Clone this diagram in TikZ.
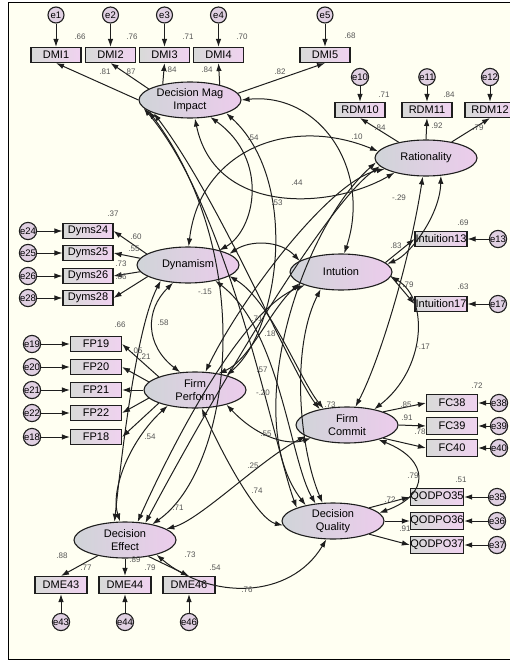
\documentclass[tikz,border=0pt]{standalone}
\usepackage{fontspec}
\setmainfont{Liberation Sans}
\usetikzlibrary{arrows.meta,shapes.geometric}
\definecolor{cream}{RGB}{255,255,242}
\definecolor{boxL}{RGB}{216,218,216}
\definecolor{boxR}{RGB}{240,210,240}
\definecolor{ellL}{RGB}{208,212,216}
\definecolor{ellR}{RGB}{236,204,236}
\definecolor{errF}{RGB}{224,208,226}
\definecolor{ink}{RGB}{30,30,30}
\definecolor{valc}{RGB}{85,85,85}
\begin{document}
\begin{tikzpicture}[x=1pt,y=-1pt,
  ind/.style={draw=ink, line width=1.1pt, minimum width=50pt, minimum height=15pt, inner sep=0pt, left color=boxL, right color=boxR, font=\fontsize{11}{11}\selectfont},
  lat/.style={ellipse, draw=ink, line width=1.1pt, minimum width=102pt, minimum height=36pt, inner sep=0pt, left color=ellL, right color=ellR, align=center, font=\fontsize{11}{12.5}\selectfont},
  err/.style={circle, draw=ink, line width=1.1pt, minimum size=16pt, inner sep=0pt, fill=errF, font=\fontsize{9.5}{9.5}\selectfont},
  arr/.style={draw=ink, line width=1pt, -{Latex[length=8pt,width=5.5pt]}},
  cov/.style={draw=ink, line width=1pt, {Latex[length=8pt,width=5.5pt]}-{Latex[length=8pt,width=5.5pt]}},
  val/.style={font=\fontsize{8}{8}\selectfont, text=valc, inner sep=0pt}
]
\useasboundingbox (0,0) rectangle (509,661);
\fill[white] (0,0) rectangle (509,661);
\draw[fill=cream, line width=1pt] (8,3) rectangle (540,659);

% latent variables
\node[lat] (DMI) at (190,100) {Decision Mag\\Impact};
\node[lat] (RAT) at (426,158) {Rationality};
\node[lat] (INT) at (341,272) {Intution};
\node[lat] (DYN) at (188,265) {Dynamism};
\node[lat] (FP)  at (195,390) {Firm\\Perform};
\node[lat] (FC)  at (347,425) {Firm\\Commit};
\node[lat] (DQ)  at (333,521) {Decision\\Quality};
\node[lat] (DE)  at (125,540) {Decision\\Effect};

% DMI indicators
\foreach \n/\x/\e in {DMI1/56/e1, DMI2/110.5/e2, DMI3/164.5/e3, DMI4/218.5/e4, DMI5/325/e5}{
  \node[ind] (\n) at (\x,55) {\n};
  \node[err] (\e) at (\x,15) {\e};
  \draw[arr] (\e) -- (\n);
}
\draw[arr] (DMI.west) -- (DMI1.south);
\draw[arr] (DMI.165) -- (DMI2.south);
\draw[arr] (DMI.150) -- (DMI3.south);
\draw[arr] (DMI.27) -- (DMI4.south);
\draw[arr] (DMI.8) -- (DMI5.south);

% RDM indicators
\foreach \n/\x/\e in {RDM10/360/e10, RDM11/427/e11, RDM12/490/e12}{
  \node[ind] (\n) at (\x,110) {\n};
  \node[err] (\e) at (\x,77) {\e};
  \draw[arr] (\e) -- (\n);
}
\draw[arr] (RAT.150) -- (RDM10.south);
\draw[arr] (RAT.north) -- (RDM11.south);
\draw[arr] (RAT.32) -- (RDM12.south);

% Intuition indicators
\foreach \n/\y/\e in {Intuition13/239/e13, Intuition17/304/e17}{
  \node[ind, minimum width=52pt] (\n) at (441,\y) {\n};
  \node[err] (\e) at (498,\y) {\e};
  \draw[arr] (\e) -- (\n);
}
\draw[arr] (INT.12) -- (Intuition13.west);
\draw[arr] (INT.-5) -- (Intuition17.west);

% Dynamism indicators
\foreach \n/\y/\e/\a in {Dyms24/231/e24/165, Dyms25/253/e25/172, Dyms26/276/e26/188, Dyms28/298/e28/196}{
  \node[ind] (\n) at (88,\y) {\n};
  \node[err] (\e) at (28,\y) {\e};
  \draw[arr] (\e) -- (\n);
  \draw[arr] (DYN.\a) -- (\n.east);
}

% Firm perform indicators
\foreach \n/\y/\e/\a in {FP19/344/e19/160, FP20/367/e20/170, FP21/390/e21/180, FP22/413/e22/190, FP18/437/e18/200}{
  \node[ind, minimum width=51pt] (\n) at (96,\y) {\n};
  \node[err] (\e) at (32,\y) {\e};
  \draw[arr] (\e) -- (\n);
  \draw[arr] (FP.\a) -- (\n.east);
}

% Firm commit indicators
\foreach \n/\y/\e/\a in {FC38/403/e38/20, FC39/426/e39/0, FC40/448/e40/-20}{
  \node[ind, minimum width=51pt, minimum height=17pt] (\n) at (452,\y) {\n};
  \node[err] (\e) at (499,\y) {\e};
  \draw[arr] (\e) -- (\n);
  \draw[arr] (FC.\a) -- (\n.west);
}

% Decision quality indicators
\foreach \n/\y/\e/\a in {QODPO35/497/e35/20, QODPO36/521/e36/0, QODPO37/545/e37/-20}{
  \node[ind, minimum width=51pt, minimum height=17pt] (\n) at (437,\y) {\n};
  \node[err] (\e) at (497,\y) {\e};
  \draw[arr] (\e) -- (\n);
  \draw[arr] (DQ.\a) -- (\n.west);
}

% Decision effect indicators
\foreach \n/\x/\e/\a in {DME43/61/e43/-150, DME44/125/e44/-90, DME46/189/e46/-35}{
  \node[ind, minimum width=52pt, minimum height=17pt] (\n) at (\x,585) {\n};
  \node[err] (\e) at (\x,622) {\e};
  \draw[arr] (\e) -- (\n);
  \draw[arr] (DE.\a) -- (\n.north);
}

% covariances
\draw[cov] (DMI.-75) .. controls (215,215) and (330,210) .. (RAT.205);
\draw[cov] (DMI.east) .. controls (320,92) and (372,170) .. (INT.80);
\draw[cov] (DMI.-40) .. controls (270,160) and (255,230) .. (DYN.25);
\draw[cov] (DMI.-20) .. controls (300,180) and (280,330) .. (FP.25);
\draw[cov] (DMI.200) .. controls (220,200) and (290,370) .. (FC.150);
\draw[cov] (DMI.190) .. controls (230,210) and (275,450) .. (DQ.160);
\draw[cov] (DMI.195) .. controls (260,260) and (230,470) .. (DE.30);
\draw[cov] (RAT.-50) .. controls (440,215) and (410,255) .. (INT.10);
\draw[cov] (RAT.172) .. controls (290,115) and (200,150) .. (DYN.88);
\draw[cov] (RAT.195) .. controls (330,180) and (240,300) .. (FP.60);
\draw[cov] (RAT.-100) .. controls (410,260) and (380,360) .. (FC.65);
\draw[cov] (RAT.185) .. controls (300,230) and (240,420) .. (DQ.150);
\draw[cov] (RAT.190) .. controls (320,210) and (200,420) .. (DE.40);
\draw[cov] (INT.165) .. controls (280,240) and (250,240) .. (DYN.15);
\draw[cov] (INT.195) .. controls (270,310) and (250,360) .. (FP.35);
\draw[cov] (INT.-5) .. controls (430,300) and (425,370) .. (FC.30);
\draw[cov] (INT.-140) .. controls (290,350) and (300,450) .. (DQ.120);
\draw[cov] (INT.200) .. controls (240,310) and (170,450) .. (DE.55);
\draw[cov] (DYN.230) .. controls (145,310) and (145,345) .. (FP.130);
\draw[cov] (DYN.-15) .. controls (270,300) and (300,380) .. (FC.145);
\draw[cov] (DYN.-30) .. controls (280,330) and (290,460) .. (DQ.135);
\draw[cov] (DYN.210) .. controls (135,330) and (120,470) .. (DE.120);
\draw[cov] (FP.-25) .. controls (260,440) and (290,445) .. (FC.200);
\draw[cov] (FP.-70) .. controls (230,470) and (260,520) .. (DQ.185);
\draw[cov] (FP.210) .. controls (130,440) and (110,490) .. (DE.105);
\draw[cov] (FC.-25) .. controls (430,460) and (430,495) .. (DQ.10);
\draw[cov] (FC.195) .. controls (260,460) and (200,520) .. (DE.15);
\draw[cov] (DE.-25) .. controls (210,600) and (290,600) .. (DQ.-110);

% values
\foreach \x/\y/\t [count=\i] in {
 80/37/.66, 132/37/.76, 188/37/.71, 242/37/.70, 350/36/.68,
 105/72/.81, 130/72/.87, 171/70/.84, 207/70/.84, 280/72/.82,
 384/95/.71, 449/95/.84, 380/128/.84, 437/126/.92, 478/128/.79,
 463/223/.69, 463/287/.63, 396/246/.83, 408/285/.79, 399/198/-.29,
 113/214/.37, 136/237/.60, 134/249/.55, 121/264/.73, 121/277/.86,
 120/325/.66, 163/323/.58, 137/351/.05, 145/357/.21, 150/437/.54,
 477/386/.72, 406/405/.85, 407/418/.91, 420/432/.78, 423/347/-.17, 330/405/.73,
 461/480/.51, 413/476/.79, 390/500/.72, 405/529/.91,
 62/556/.88, 86/568/.77, 135/560/.89, 150/568/.79, 190/555/.73, 215/568/.54, 247/590/.76,
 257/491/.74, 178/508/.71, 266/434/.55, 253/466/.25, 262/370/.57, 263/393/-.20,
 257/319/.71, 270/334/.18, 205/292/-.15, 277/203/.53, 297/183/.44, 253/138/.54, 357/137/.10}{
  \node[val] (v\i) at (\x,\y) {\t};
}
\end{tikzpicture}
\end{document}
